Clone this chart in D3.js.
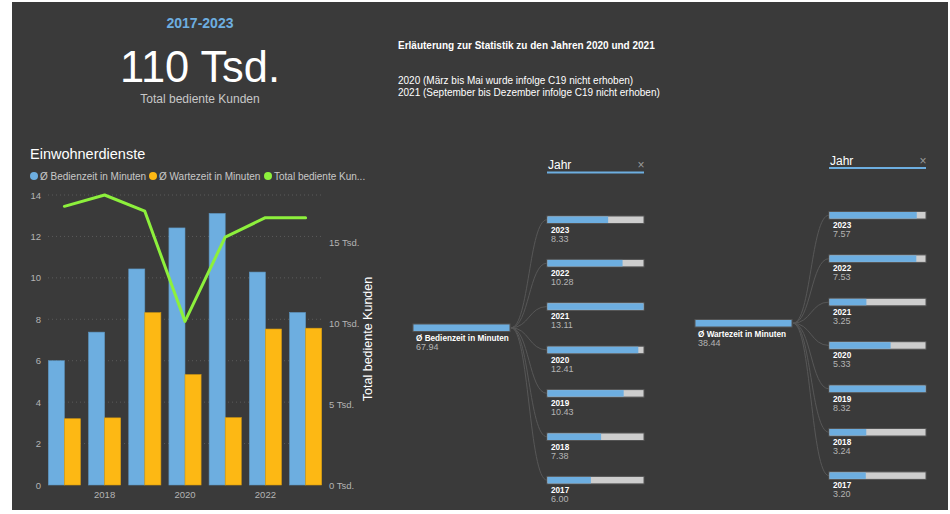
<!DOCTYPE html>
<html>
<head>
<meta charset="utf-8">
<script src="https://cdn.jsdelivr.net/npm/d3@7"></script>
<style>
  html, body { margin: 0; padding: 0; background: #ffffff; }
  svg { display: block; font-family: "Liberation Sans", Arial, sans-serif; }
</style>
</head>
<body>
<svg id="dash" width="950" height="514"></svg>
<script>
// ---- data -------------------------------------------------------------
const years       = [2017, 2018, 2019, 2020, 2021, 2022, 2023];
const bedienzeit  = [6.00, 7.38, 10.43, 12.41, 13.11, 10.28, 8.33];   // Ø Bedienzeit in Minuten
const wartezeit   = [3.20, 3.24, 8.32, 5.33, 3.25, 7.53, 7.57];       // Ø Wartezeit in Minuten
const kunden      = [17200, 17900, 16900, 10100, 15300, 16500, 16500]; // Total bediente Kunden
const leftTicks   = [0, 2, 4, 6, 8, 10, 12, 14];
const rightTicks  = [0, 5000, 10000, 15000];
const xTickYears  = [2018, 2020, 2022];
const seriesNames = ["Ø Bedienzeit in Minuten", "Ø Wartezeit in Minuten", "Total bediente Kun..."];
const noteTitle   = "Erläuterung zur Statistik zu den Jahren 2020 und 2021";
const noteLines   = ["2020 (März bis Mai wurde infolge C19 nicht erhoben)",
                     "2021 (September bis Dezember infolge C19 nicht erhoben)"];

const C = {
  bg: "#3a3a3a", blue: "#6daee0", orange: "#fdb814", green: "#8df03c",
  grid: "#5a5a5a", text: "#ffffff", sub: "#c8c8c8", axis: "#b4b4b4",
  track: "#cdcdcd", link: "#575757", barEdge: "#545454"
};

const svg = d3.select("#dash");

// dark report canvas
svg.append("rect").attr("x", 12).attr("y", 2).attr("width", 936).attr("height", 508).attr("fill", C.bg);

// ---- KPI card -----------------------------------------------------------
const total = d3.sum(kunden);
svg.append("text").attr("x", 200).attr("y", 28).attr("text-anchor", "middle")
  .attr("font-size", 14).attr("font-weight", "bold").attr("fill", C.blue)
  .text(`${years[0]}-${years[years.length - 1]}`);
svg.append("text").attr("x", 200).attr("y", 82).attr("text-anchor", "middle")
  .attr("font-size", 44).attr("fill", C.text)
  .attr("textLength", 160).attr("lengthAdjust", "spacingAndGlyphs")
  .text(`${Math.round(total / 1000)} Tsd.`);
svg.append("text").attr("x", 200).attr("y", 103).attr("text-anchor", "middle")
  .attr("font-size", 12).attr("fill", C.sub).text("Total bediente Kunden");

// ---- note text ----------------------------------------------------------
svg.append("text").attr("x", 398).attr("y", 49).attr("font-size", 10)
  .attr("font-weight", "bold").attr("fill", C.text).text(noteTitle);
noteLines.forEach((t, i) => {
  svg.append("text").attr("x", 398).attr("y", 84 + i * 11.7).attr("font-size", 10)
    .attr("fill", C.text).text(t);
});

// ---- combo chart --------------------------------------------------------
svg.append("text").attr("x", 30).attr("y", 159).attr("font-size", 14.5)
  .attr("fill", C.text).text("Einwohnerdienste");

const legendX = [34, 153, 268];
const legendColors = [C.blue, C.orange, C.green];
seriesNames.forEach((name, i) => {
  svg.append("circle").attr("cx", legendX[i]).attr("cy", 176).attr("r", 4).attr("fill", legendColors[i]);
  svg.append("text").attr("x", legendX[i] + 6).attr("y", 179.5).attr("font-size", 10)
    .attr("fill", C.sub).text(name);
});

const plotTop = 195, plotBottom = 485, plotLeft = 48, plotRight = 322;

const x = d3.scaleBand().domain(years).range([44.3, 325.7]).paddingInner(0.2).paddingOuter(0.1);
const xSub = d3.scaleBand().domain(["b", "w"]).range([0, x.bandwidth()]);
const yL = d3.scaleLinear().domain([0, 14]).range([plotBottom, plotTop]);
const yR = d3.scaleLinear().domain([0, d3.max(kunden)]).range([plotBottom, plotTop]);

// dotted gridlines
svg.append("g").selectAll("line").data(leftTicks.filter(t => t > 0)).join("line")
  .attr("x1", plotLeft).attr("x2", plotRight)
  .attr("y1", d => yL(d)).attr("y2", d => yL(d))
  .attr("stroke", C.grid).attr("stroke-width", 1).attr("stroke-dasharray", "1,3");

// left axis
const axL = svg.append("g").attr("transform", `translate(${plotLeft - 4},0)`)
  .call(d3.axisLeft(yL).tickValues(leftTicks).tickSize(0).tickPadding(3));
axL.select(".domain").remove();
axL.selectAll("text").attr("fill", C.axis).attr("font-size", 9.5)
  .attr("font-family", "Liberation Sans, Arial, sans-serif");

// right axis
const axR = svg.append("g").attr("transform", `translate(${plotRight + 4},0)`)
  .call(d3.axisRight(yR).tickValues(rightTicks).tickSize(0).tickPadding(3)
    .tickFormat(d => `${d / 1000} Tsd.`));
axR.select(".domain").remove();
axR.selectAll("text").attr("fill", C.axis).attr("font-size", 9.5)
  .attr("font-family", "Liberation Sans, Arial, sans-serif");

svg.append("text")
  .attr("transform", "translate(372,339) rotate(-90)")
  .attr("text-anchor", "middle").attr("font-size", 12.5).attr("fill", C.text)
  .text("Total bediente Kunden");

// x axis
const axX = svg.append("g").attr("transform", `translate(0,${plotBottom})`)
  .call(d3.axisBottom(x).tickValues(xTickYears).tickSize(0).tickPadding(6));
axX.select(".domain").remove();
axX.selectAll("text").attr("fill", C.axis).attr("font-size", 9.5)
  .attr("font-family", "Liberation Sans, Arial, sans-serif");

// clustered bars
const rows = years.map((yr, i) => ({ yr, b: bedienzeit[i], w: wartezeit[i], k: kunden[i] }));
const grp = svg.append("g").selectAll("g").data(rows).join("g")
  .attr("transform", d => `translate(${x(d.yr)},0)`);
grp.append("rect").attr("x", xSub("b")).attr("width", xSub.bandwidth())
  .attr("y", d => yL(d.b)).attr("height", d => yL(0) - yL(d.b))
  .attr("fill", C.blue).attr("stroke", "#5d94bf").attr("stroke-width", 0.6);
grp.append("rect").attr("x", xSub("w")).attr("width", xSub.bandwidth())
  .attr("y", d => yL(d.w)).attr("height", d => yL(0) - yL(d.w))
  .attr("fill", C.orange).attr("stroke", "#d89c10").attr("stroke-width", 0.6);

// customers line
svg.append("path").datum(rows)
  .attr("d", d3.line().x(d => x(d.yr) + x.bandwidth() / 2).y(d => yR(d.k)))
  .attr("fill", "none").attr("stroke", C.green).attr("stroke-width", 3)
  .attr("stroke-linejoin", "round").attr("stroke-linecap", "round");

// ---- decomposition trees ------------------------------------------------
const yearsDesc = years.slice().reverse();

function drawTree(offX, offY, values, rootLabel) {
  const g = svg.append("g").attr("transform", `translate(${offX},${offY})`);
  const byYear = new Map(years.map((y, i) => [y, values[i]]));
  const rootX = 413, rootTop = 324, barW = 97, barH = 7.5;
  const childX = 547;
  const rowY = d3.scalePoint().domain(yearsDesc).range([216, 476.4]);
  const len = d3.scaleLinear().domain([0, d3.max(values)]).range([0, barW]);

  // header
  g.append("text").attr("x", childX + 1).attr("y", 169).attr("font-size", 12)
    .attr("fill", C.text).text("Jahr");
  g.append("text").attr("x", childX + barW - 3).attr("y", 169).attr("text-anchor", "middle")
    .attr("font-size", 12).attr("fill", "#9a9a9a").text("×");
  g.append("line").attr("x1", childX).attr("x2", childX + barW)
    .attr("y1", 172.5).attr("y2", 172.5).attr("stroke", C.blue).attr("stroke-width", 2);

  // links
  const link = d3.linkHorizontal().x(d => d[0]).y(d => d[1]);
  g.append("g").selectAll("path").data(yearsDesc).join("path")
    .attr("d", yr => link({ source: [rootX + barW + 1, rootTop + barH / 2],
                            target: [childX, rowY(yr) + barH / 2] }))
    .attr("fill", "none").attr("stroke", C.link).attr("stroke-width", 1);

  // root node
  g.append("rect").attr("x", rootX).attr("y", rootTop).attr("width", barW).attr("height", barH)
    .attr("fill", C.blue).attr("stroke", C.barEdge).attr("stroke-width", 1);
  g.append("text").attr("x", rootX + 3).attr("y", rootTop + 17).attr("font-size", 8.2)
    .attr("font-weight", "bold").attr("fill", C.text).text(rootLabel);
  g.append("text").attr("x", rootX + 3).attr("y", rootTop + 26).attr("font-size", 9)
    .attr("fill", C.axis).text(d3.sum(values).toFixed(2));

  // child nodes
  const node = g.append("g").selectAll("g").data(yearsDesc).join("g")
    .attr("transform", yr => `translate(${childX},${rowY(yr)})`);
  node.append("rect").attr("width", barW).attr("height", barH)
    .attr("fill", C.track).attr("stroke", C.barEdge).attr("stroke-width", 1);
  node.append("rect").attr("x", 0.5).attr("y", 0.5)
    .attr("width", yr => Math.max(0, len(byYear.get(yr)) - 1)).attr("height", barH - 1)
    .attr("fill", C.blue);
  node.append("text").attr("x", 4).attr("y", 16.5).attr("font-size", 8.2)
    .attr("font-weight", "bold").attr("fill", C.text).text(yr => yr);
  node.append("text").attr("x", 4).attr("y", 25.5).attr("font-size", 9)
    .attr("fill", C.axis).text(yr => byYear.get(yr).toFixed(2));
}

drawTree(0, 0, bedienzeit, "Ø Bedienzeit in Minuten");
drawTree(282, -4.5, wartezeit, "Ø Wartezeit in Minuten");
</script>
</body>
</html>
